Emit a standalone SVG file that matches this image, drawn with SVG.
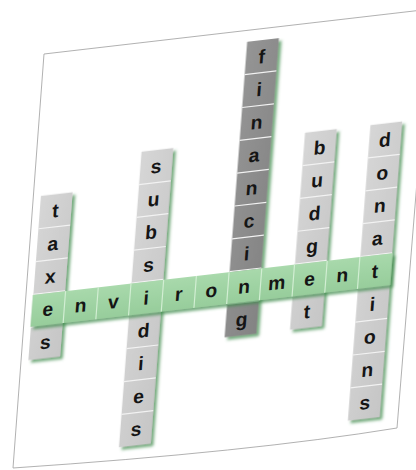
<svg xmlns="http://www.w3.org/2000/svg" width="416" height="470" viewBox="0 0 416 470">
<defs>
<linearGradient id="gGray" x1="0" y1="0" x2="1" y2="1">
<stop offset="0" stop-color="#d6d6d6"/><stop offset="1" stop-color="#c6c6c6"/>
</linearGradient>
<linearGradient id="gDark" x1="0" y1="0" x2="1" y2="1">
<stop offset="0" stop-color="#959595"/><stop offset="1" stop-color="#838383"/>
</linearGradient>
<linearGradient id="gGreen" x1="0" y1="0" x2="0" y2="1">
<stop offset="0" stop-color="#a8d9ab"/><stop offset="1" stop-color="#97cd9b"/>
</linearGradient>
<filter id="sh" x="-20%" y="-10%" width="150%" height="130%">
<feGaussianBlur in="SourceAlpha" stdDeviation="1.6" result="b"/>
<feOffset in="b" dx="3.5" dy="3.5" result="o"/>
<feFlood flood-color="#3d8a4a" flood-opacity="0.7"/>
<feComposite in2="o" operator="in" result="s"/>
<feMerge><feMergeNode in="s"/><feMergeNode in="SourceGraphic"/></feMerge>
</filter>
</defs>
<style>
.paper{fill:#ffffff;stroke:#a8a8a8;stroke-width:0.9}
.gray{fill:url(#gGray)}
.dark{fill:url(#gDark)}
.green{fill:url(#gGreen)}
.sep{stroke:#f2f2f2;stroke-width:1.2}
.sepg{stroke:#d2eed3;stroke-width:1.2}
text{font-family:"Liberation Sans",Arial,sans-serif;font-weight:bold;font-size:19.5px;fill:#151515;text-anchor:middle}
</style>
<g id="paper">
<path class="paper" d="M44,54 L431,9 L397,428 Q250,452 13,468 Z"/>
</g>
<g transform="matrix(0.991,-0.115,-0.076,0.995,48,309)">
<g id="taxes">
<rect class="gray" x="-16" y="-115.5" width="32" height="165" filter="url(#sh)"/>
<path class="sep" d="M-16,-82.5H16M-16,-49.5H16M-16,-16.5H16M-16,16.5H16"/>
<text x="0" y="-92">t</text><text x="0" y="-59">a</text><text x="0" y="-26">x</text><text x="0" y="40">s</text>
</g>
<g id="subsidies">
<rect class="gray" x="83" y="-148.5" width="32" height="297" filter="url(#sh)"/>
<path class="sep" d="M83,-115.5H115M83,-82.5H115M83,-49.5H115M83,-16.5H115M83,16.5H115M83,49.5H115M83,82.5H115M83,115.5H115"/>
<text x="99" y="-125">s</text><text x="99" y="-92">u</text><text x="99" y="-59">b</text><text x="99" y="-26">s</text>
<text x="99" y="40">d</text><text x="99" y="73">i</text><text x="99" y="106">e</text><text x="99" y="139">s</text>
</g>
<g id="financing">
<rect class="dark" x="182" y="-247.5" width="32" height="297" filter="url(#sh)"/>
<path class="sep" d="M182,-214.5H214M182,-181.5H214M182,-148.5H214M182,-115.5H214M182,-82.5H214M182,-49.5H214M182,-16.5H214M182,16.5H214"/>
<text x="198" y="-224">f</text><text x="198" y="-191">i</text><text x="198" y="-158">n</text><text x="198" y="-125">a</text>
<text x="198" y="-92">n</text><text x="198" y="-59">c</text><text x="198" y="-26">i</text><text x="198" y="40">g</text>
</g>
<g id="budget">
<rect class="gray" x="248" y="-148.5" width="32" height="198" filter="url(#sh)"/>
<path class="sep" d="M248,-115.5H280M248,-82.5H280M248,-49.5H280M248,-16.5H280M248,16.5H280"/>
<text x="264" y="-125">b</text><text x="264" y="-92">u</text><text x="264" y="-59">d</text><text x="264" y="-26">g</text><text x="264" y="40">t</text>
</g>
<g id="donations">
<rect class="gray" x="314" y="-148.5" width="32" height="297" filter="url(#sh)"/>
<path class="sep" d="M314,-115.5H346M314,-82.5H346M314,-49.5H346M314,-16.5H346M314,16.5H346M314,49.5H346M314,82.5H346M314,115.5H346"/>
<text x="330" y="-125">d</text><text x="330" y="-92">o</text><text x="330" y="-59">n</text><text x="330" y="-26">a</text>
<text x="330" y="40">i</text><text x="330" y="73">o</text><text x="330" y="106">n</text><text x="330" y="139">s</text>
</g>
<g id="environment">
<rect class="green" x="-16.5" y="-16" width="363" height="32" filter="url(#sh)"/>
<path class="sepg" d="M16.5,-16V16M49.5,-16V16M82.5,-16V16M115.5,-16V16M148.5,-16V16M181.5,-16V16M214.5,-16V16M247.5,-16V16M280.5,-16V16M313.5,-16V16"/>
<text x="0" y="7">e</text><text x="33" y="7">n</text><text x="66" y="7">v</text><text x="99" y="7">i</text>
<text x="132" y="7">r</text><text x="165" y="7">o</text><text x="198" y="7">n</text><text x="231" y="7">m</text>
<text x="264" y="7">e</text><text x="297" y="7">n</text><text x="330" y="7">t</text>
</g>
</g>
</svg>
